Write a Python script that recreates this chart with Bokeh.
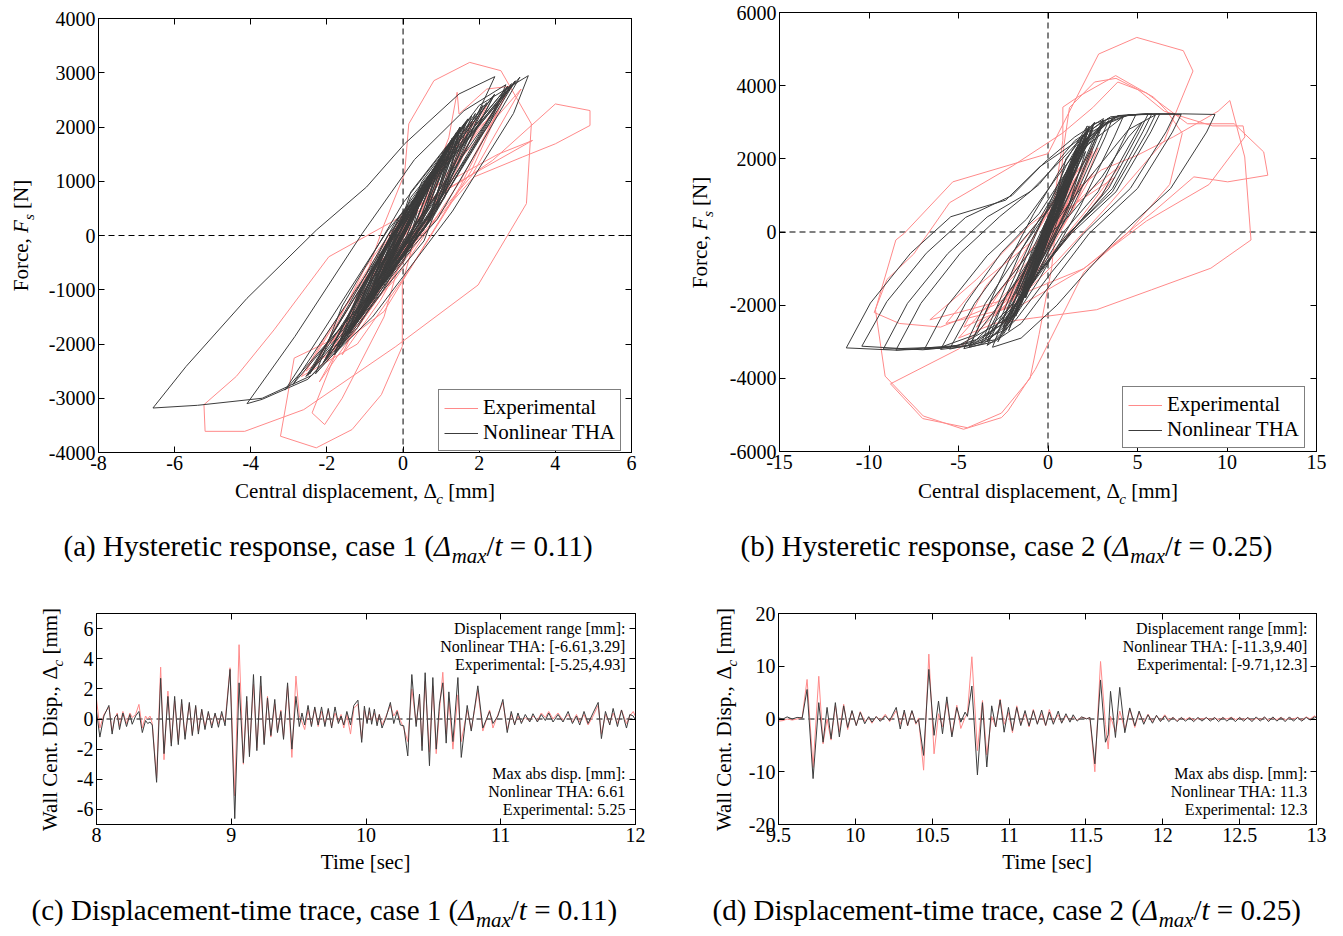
from bokeh.plotting import figure
from bokeh.models import Range1d, LinearAxis, FixedTicker, Span, Label, Legend, LegendItem, ColumnDataSource
from bokeh.layouts import column, row
from bokeh.embed import file_html
from bokeh.resources import INLINE

FONT = "Liberation Serif"
PINK = "#ff8a8a"
DARK = "#3c3c3c"

# ---------------- data ----------------
a_xticks = [-8, -6, -4, -2, 0, 2, 4, 6]
a_xlabels = ["-8", "-6", "-4", "-2", "0", "2", "4", "6"]
a_yticks = [-4000, -3000, -2000, -1000, 0, 1000, 2000, 3000, 4000]
a_ylabels = ["-4000", "-3000", "-2000", "-1000", "0", "1000", "2000", "3000", "4000"]
b_xticks = [-15, -10, -5, 0, 5, 10, 15]
b_xlabels = ["-15", "-10", "-5", "0", "5", "10", "15"]
b_yticks = [-6000, -4000, -2000, 0, 2000, 4000, 6000]
b_ylabels = ["-6000", "-4000", "-2000", "0", "2000", "4000", "6000"]
c_xticks = [8, 9, 10, 11, 12]
c_xlabels = ["8", "9", "10", "11", "12"]
c_yticks = [-6, -4, -2, 0, 2, 4, 6]
c_ylabels = ["-6", "-4", "-2", "0", "2", "4", "6"]
d_xticks = [9.5, 10, 10.5, 11, 11.5, 12, 12.5, 13]
d_xlabels = ["9.5", "10", "10.5", "11", "11.5", "12", "12.5", "13"]
d_yticks = [-20, -10, 0, 10, 20]
d_ylabels = ["-20", "-10", "0", "10", "20"]

# case 1 hysteresis, Nonlinear THA (displacement mm, force N)
a_tha_xy = [
(0.0,0),(0.4,550),(0.1,100),(-1.2,-1450),(-0.8,-800),(0.1,300),(0.9,1200),(0.6,500),(-0.3,-500),(-1.0,-1300),(-0.6,-600),(0.3,600),(0.4,650),(-0.2,-100),(-0.7,-900),(-0.3,-300),(0.4,600),(0.1,150),(-0.5,-700),(-0.2,-200),(0.3,500),(-0.35,-500),(0.2,350),(0.5,700),(0.1,0),(-0.9,-1150),(-0.5,-500),(-0.1,-50),(-0.4,-500),
(-1.5,-1900),(-2.5,-2650),(-3.7,-3020),(-4.1,-3100),
(-2.84,-1860),(-1.07,40),(0.3,1400),(1.6,2300),(2.7,2780),
(2.3,2100),(0.5,200),(-1.2,-1700),(-2.3,-2550),
(-1.6,-1300),(0.0,600),(1.5,1950),
(1.0,900),(-0.6,-1100),(-1.8,-2200),
(-1.2,-1100),(0.4,800),(1.5,1950),
(0.9,800),(-0.8,-1200),(-1.7,-2100),
(-1.1,-1000),(0.3,700),(1.3,1750),
(0.7,600),(-0.7,-1000),(-1.35,-1700),
(-0.8,-700),(0.2,500),(1.1,1500),
(0.5,400),(-1.1,-1450),(-0.3,-200),(0.9,1250),(0.3,200),(-1.0,-1300),(-0.4,-300),(0.65,950),(0.1,0),(-0.7,-900),
(0.0,200),(0.5,750),(-0.6,-750),(0.4,650),(-0.55,-700),(0.5,750),(-0.45,-600),
(0.5,1000),(2.0,2400),(3.29,2946),
(2.9,2250),(1.3,450),(-0.8,-1500),(-2.4,-2580),(-3.7,-3000),(-5.4,-3130),(-6.57,-3180),
(-5.7,-2414),(-4.10,-1158),(-2.28,98),(-0.96,894),(0.04,1690),(1.47,2609),(2.41,2928),
(0.54,100),(-2.9,-2750),(-0.57,-300),(1.5,2000),(0.18,-300),(-2.5,-2580),(-0.21,100),(2.95,2850),
(0.68,250),(-2.1,-2350),(-0.12,200),(2.85,2800),(0.81,400),(-1.7,-2050),(-0.39,-100),(1.4,1900),
(0.63,200),(-1.1,-1450),(-0.16,150),(1.3,1800),(0.72,300),(-0.9,-1200),(-0.48,-200),(0.5,800),
(0.04,-450),(-1.35,-1700),(0.11,450),(2.4,2600),(0.61,175),(-2.0,-2250),(-0.41,-125),(1.5,2000),
(1.09,700),(-0.4,-600),
(0.9,1200),(-0.5,-700),(0.8,1100),(-0.4,-550),(0.8,1100),(-0.5,-700),(0.7,1000),(-0.6,-800),(0.8,1100),(-0.3,-400),(0.2,300),(-0.4,-550),(0.5,750),(-0.4,-550),(0.9,1250),(1.25,1700),
(0.6,500),(-1.55,-1900),(-0.9,-900),(0.85,1200),(-0.3,-400),(0.75,1050),(-0.35,-450),(0.65,950),(-0.45,-600),(0.3,450),(-0.6,-800),(0.1,150),(1.1,1500),(-0.3,-400),(0.5,750),(-0.45,-650),
(-0.3,-250),(-2.45,-2550),(-0.2,250),(2.95,2850),(1.2,1100),(-0.5,-700),(0.2,800),(1.65,2100),
(0.9,500),(-2.1,-2350),(-0.1,300),(3.07,2920),(0.9,300),(-3.1,-2850),(-0.4,100),(2.75,2750),
(0.8,350),(-2.0,-2250),(-0.4,0),(2.4,2600),(0.85,550),(-1.6,-1950),(-0.1,350),(1.8,2200),
(0.55,-100),(-1.5,-1850),(0.0,400),(2.75,2750),(0.55,150),(-2.55,-2600),(-0.7,-500),(0.9,1250),
(0.2,0),(-0.8,-1100),(0.2,700),(2.2,2450),(0.9,700),(-0.6,-800),
(0.5,750),(-0.3,-400),(1.3,1800),(-0.9,-1200),(0.5,750),(-0.4,-550),(0.4,600),(-0.3,-400),(0.3,450),(-0.2,-300),(1.1,1500),(-1.3,-1650),(0.5,700),(-0.4,-550),(0.7,1000),(-0.5,-700),(0.6,850),(-0.6,-800),
(1.4,1850),(0.6,400),(-1.0,-1350),(-0.3,-100),(1.6,2050),(0.8,550),(-1.2,-1600),(-0.4,-150),(1.9,2250),(1.0,700),(-1.4,-1800),(-0.5,-300),(1.2,1650),(0.5,300),(-1.8,-2150),(-0.6,-350),(2.1,2400),(1.1,800),(-1.0,-1350),(-0.2,0),(1.0,1400),(0.4,200),(-1.6,-2000),(-0.5,-250),(1.7,2150),(0.8,450),(-0.8,-1100),(0.0,200),(0.8,1100),(0.2,0),(-1.2,-1550),(-0.4,-100),(1.5,1950),(0.7,400),(-0.6,-800),
(0.3,400),(0.0,0)
]

# case 1 hysteresis, Experimental
a_exp_xy = [
(0.0,0),(0.9,1300),(-0.6,-900),(0.8,1100),(-0.5,-700),(0.97,1350),(-0.6,-800),(0.3,400),(-0.3,-300),
(-1.5,-1800),(-2.86,-2260),(-3.22,-3700),(-2.28,-3914),(-1.34,-3577),(-0.57,-2934),(-0.02,-2046),(-0.02,-882),
(0.6,700),(1.2,1800),(1.42,2640),(1.47,2240),(2.2,2700),(2.8,2750),
(1.8,1200),(0.2,-600),(-1.2,-2000),(-2.67,-2600),
(-1.9,-1700),(0.0,200),(1.85,2100),(1.0,800),(-0.6,-1200),(-1.6,-2200),
(-0.8,-1000),(0.5,700),(1.2,1500),(0.5,300),(-0.5,-1000),(-1.5,-2000),
(-0.8,-900),(0.3,500),(1.0,1300),(0.2,0),(-1.1,-1500),(-0.3,-300),(0.8,1100),(-0.8,-1200),(0.6,900),(-0.5,-700),(0.4,600),(-0.3,-300),
(1.2,1000),(2.5,1500),(3.40,1752),
(1.5,1000),(-0.3,250),(-1.95,-392),(-3.39,-1740),(-4.38,-2597),(-5.23,-3118),(-5.2,-3610),(-4.16,-3610),(-2.61,-3210),(-0.19,-2046),(1.97,-913),(3.24,588),(3.37,2058),(2.57,3038),(1.75,3191),(0.81,2854),(0.15,2058),(0.04,1140),
(-0.5,200),(-1.0,-800),(-2.39,-3270),(-2.06,-3485),(-1.6,-3000),(-0.5,-1500),
(0.3,500),(1.58,1017),(2.35,1384),(4.0,2425),(4.91,2303),(4.91,2028),(4.0,1690),(3.13,1445),(1.86,1078),
(0.5,0),(-1.5,-2000),(-2.2,-2700),(-1.0,-1200),(1.0,900),(2.0,2000),(2.5,2300),
(1.5,1000),(-0.2,-800),(-2.3,-2400),(-1.0,-600),(1.8,2100),(0.8,500),(-2.0,-2300),(-0.6,-500),(2.7,2600),(1.5,900),(-0.5,-1400),(-2.55,-2500),(-1.0,-700),(1.3,1700),(0.5,300),(-1.2,-1700),(0.0,200),(3.1,2700),(1.8,1100),(-2.2,-2200),(-0.5,-300),(2.2,2400),(1.0,600),(-1.9,-2000),(-0.3,-200),(1.2,1500),(0.3,0),(-0.8,-1000),(0.6,800),(-0.3,-400),(0.4,500),(0.0,0)
]

# case 2 hysteresis, Nonlinear THA
b_tha_xy = [
(0.0,0),(0.5,900),(-0.3,-600),(0.4,700),(-0.2,-300),
(1.0,2000),(2.5,2950),(4.0,3180),(5.6,3230),
(5.1,2740),(3.4,1200),(1.2,-40),(-0.8,-1300),(-2.5,-2500),(-4.0,-3000),(-6.0,-3180),(-8.5,-3230),(-11.27,-3168),
(-9.92,-1942),(-7.68,-581),(-5.43,418),(-2.36,871),(-0.47,1779),(1.42,2414),(3.1,3050),
(2.7,2600),(1.2,800),(-0.5,-1100),(-2.0,-2300),(-3.2,-2900),(-4.4,-3130),
(-3.5,-2200),(-2.2,-800),(-0.8,500),(0.8,1800),(2.2,2900),
(1.8,2400),(0.3,500),(-1.5,-1600),(-3.2,-2800),(-3.75,-3050),
(-2.9,-2100),(-1.5,-500),(0.3,1000),(1.8,2300),(3.1,3000),
(2.7,2500),(1.0,500),(-1.2,-1500),(-2.8,-2700),(-3.4,-3000),
(-2.4,-1800),(-1.0,-300),(0.6,1200),(2.5,2800),
(2.1,2300),(0.5,500),(-0.8,-1000),(-1.6,-1900),
(-0.8,-700),(0.4,800),(1.6,2000),(1.2,1400),(0.0,-200),(-1.25,-1700),
(-0.5,-400),(0.5,800),(1.25,1800),(0.7,800),(-0.2,-500),(-0.9,-1300),
(-0.3,-300),(0.45,700),(-0.6,-900),(0.45,700),(-0.45,-700),(0.6,900),(-0.3,-500),
(0.5,900),(2.2,2700),(1.8,2200),(0.2,100),(-1.3,-1600),(-1.9,-2300),
(-1.0,-1000),(0.3,800),(1.7,2400),(1.2,1600),(-0.2,-400),(-1.25,-1700),
(-0.4,-300),(0.8,1400),(1.6,2300),(1.0,1200),(-0.3,-600),(-0.8,-1200),
(-0.2,-100),(-2.0,-2000),(-4.0,-2941),(-5.2,-3122),(-6.9,-3200),
(-5.6,-2000),(-3.4,-650),(-1.2,350),(0.8,1700),(2.5,2750),(4.0,3186),(6.14,3231),(7.5,3230),(9.33,3213),
(8.86,2732),(6.85,1189),(4.13,-36),(2.3,-1000),(0.5,-2000),(-1.5,-2900),(-3.1,-3150),
(-2.2,-2000),(-0.8,-500),(0.8,1200),(2.3,2500),(3.4,3050),
(2.9,2500),(1.0,400),(-1.0,-1500),(-2.8,-3000),
(-1.8,-1800),(0.0,300),(2.0,2300),(4.2,3150),
(3.7,2600),(1.8,700),(-0.5,-1300),(-2.5,-2800),(-3.4,-3100),
(-2.5,-2200),(-0.8,-200),(1.0,1800),(2.2,2800),
(1.7,2200),(0.0,300),(-1.2,-1000),(-1.8,-1700),
(-0.8,-400),(0.6,1000),(1.3,1600),(0.8,900),(-0.3,-400),(-0.6,-800),
(-2.5,-2700),(-4.5,-3120),(-6.0,-3210),
(-4.6,-1950),(-2.6,-560),(-0.5,500),(1.5,2000),(3.0,2950),(4.5,3200),(7.09,3231),
(6.6,2740),(4.6,1190),(2.0,-40),(0.2,-1100),(-1.8,-2400),(-3.0,-2950),(-5.5,-3200),
(-4.1,-1950),(-2.0,-560),(0.0,600),(1.8,2100),(3.3,3095),(5.0,3220),(5.8,3230),
(5.3,2740),(3.6,1190),(1.2,-40),(-0.5,-1100),(-2.2,-2500),(-3.6,-3050),(-4.7,-3190),
(-3.5,-1950),(-1.6,-560),(0.3,800),(2.0,2500),(3.9,3180),(4.9,3200),
(4.4,2700),(2.8,1100),(0.8,-40),(-1.0,-1500),(-2.5,-2700),
(3.0,2900),(4.5,3200),(6.25,3230),
(5.75,2740),(3.8,1100),(1.3,-40),(-0.5,-1100),(-2.5,-2500),(-4.5,-3100),(-7.0,-3220),(-10.4,-3122),
(-9.0,-1900),(-6.8,-580),(-4.6,400),(-2.0,1000),(-0.2,1900),(1.5,2600),(3.1,3100),
(2.6,2600),(0.8,600),(-1.5,-1200),(-4.0,-2800),(-6.0,-3150),(-9.2,-3200),
(-7.85,-1950),(-5.6,-590),(-3.4,410),(-1.0,1100),(0.8,2000),(2.5,2900),
(2.1,2400),(0.3,300),(-1.2,-1500),(-1.5,-1800),
(-0.2,200),(1.8,2300),(3.6,3100),
(3.2,2600),(1.3,600),(-1.0,-1300),(-2.5,-2600),
(-1.5,-1500),(0.0,400),(2.2,2700),(1.8,2200),(0.2,200),(-1.5,-2000),(-2.2,-2500),
(-1.2,-1200),(0.3,700),(2.2,2600),(1.8,2100),(0.3,0),(-1.0,-1500),(-1.25,-1800),
(-0.4,-400),(0.6,1000),(1.6,2100),(1.0,1200),(-0.5,-700),(-1.3,-1800),
(-0.5,-500),(0.5,900),(1.6,2200),(1.1,1400),(-0.3,-500),(-1.0,-1400),
(-0.2,-200),(0.7,1100),(-0.6,-900),(0.6,1000),(-0.4,-600),(0.5,800),(-0.2,-300),
(-2.0,-2300),(-5.0,-3100),(-8.5,-3230),
(-7.1,-1950),(-4.9,-580),(-2.7,420),(-0.5,1300),(1.5,2500),(3.5,3150),(5.5,3230),(7.44,3213),
(6.95,2730),(5.0,1190),(2.3,-40),(0.5,-1200),(-1.5,-2500),(-3.0,-3000),(-4.4,-3150),
(-3.2,-1900),(-1.0,-550),(1.2,450),(3.0,1500),(4.5,2600),(5.25,3000),
(4.8,2600),(3.0,1000),(0.8,-300),(-1.0,-1500),(-3.5,-2900),
(-2.4,-1800),(-0.3,-200),(2.0,1300),(4.5,2800),(6.0,3200),
(5.5,2700),(3.6,1100),(1.0,-100),(-0.8,-1300),(-2.6,-2500),
(-1.5,-1300),(0.5,800),(2.1,2200),(1.2,800),(-0.5,-900),(-1.3,-1800),
(-0.3,-400),(1.5,1700),(0.6,500),(-0.8,-1200),(-1.0,-1500),
(1.5,2200),(0.6,600),(-1.2,-1500),(-0.3,-200),(1.9,2600),(1.0,1000),(-1.5,-1900),(-0.4,-300),(2.3,2900),(1.4,1500),(-1.8,-2300),(-0.6,-500),(1.2,1800),(0.4,400),(-2.2,-2700),(-0.8,-700),(2.6,3000),(1.6,1700),(-1.0,-1200),(0.0,200),(1.0,1500),(0.3,200),(-1.4,-1800),(-0.4,-200),(1.8,2400),(0.9,900),(-0.8,-1000),(0.0,100),
(0.2,300),(1.0,1400),(0.3,200),(-0.5,-800),(0.5,700),(-0.4,-600),(0.3,400),(-0.3,-400),(0.2,200)
]

# case 2 hysteresis, Experimental
b_exp_xy = [
(0.0,0),(0.6,1200),(-0.4,-800),(0.5,900),(-0.3,-500),(0.3,700),
(0.83,2505),(0.83,3413),(1.65,3685),(3.78,4275),(5.9,3685),(6.61,3322),(7.5,2700),
(6.8,1300),(4.5,0),(2.0,-1100),(-0.71,-3758),(-2.24,-4892),(-2.6,-5074),(-4.72,-5392),(-6.97,-5029),(-9.1,-3940),(-9.64,-2124),(-8.5,-218),(-8.03,-36),(-5.32,1371),(0.0,2142),(2.83,4865),(4.96,5319),(7.56,4956),(8.1,4400),
(6.5,2500),(3.5,800),(0.5,-800),(-2.0,-2000),(-4.7,-2600),
(-3.5,-1500),(-1.0,0),(1.0,1300),(2.5,2200),(1.5,1000),(-1.0,-1000),(-3.0,-2200),(-4.0,-2600),
(-2.5,-1500),(0.0,500),(2.0,1900),(2.5,2300),(1.2,800),(-1.0,-1200),(-2.5,-2100),
(-1.0,-800),(0.5,800),(2.8,2300),(1.5,700),(-0.5,-1000),(-2.0,-1900),
(-0.5,-300),(1.5,1200),(0.5,300),(-1.2,-1500),(0.0,100),(1.6,1500),(0.6,200),(-1.0,-1000),
(0.5,600),(1.7,1600),(0.5,0),(-0.8,-900),
(-3.0,-2000),(-6.0,-2600),(-8.3,-2500),(-9.71,-2200),(-9.0,-1300),(-7.5,-600),(-5.5,800),(-2.0,1800),(0.8,2700),(2.5,3400),(3.9,4100),(5.5,3800),(7.8,2959),(10.4,2959),(12.05,2188),(12.28,1552),(10.04,1371),(8.15,1507),
(6.0,600),(2.0,-1000),(-2.0,-1800),(-5.0,-2200),(-6.6,-2400),
(-4.0,-1300),(-1.0,200),(3.0,1700),(5.0,2100),(7.0,2600),(9.5,3300),(10.16,3594),(10.99,2051),(11.34,-218),(9.10,-989),(5.79,-1579),(2.72,-2124),(-0.83,-2351),(-3.0,-2500),(-5.0,-2900),
(-3.0,-1800),(-0.5,-200),(2.0,1000),(4.0,1800),(2.0,500),(-1.0,-1300),(-3.0,-2300),
(-1.0,-800),(1.0,600),(3.75,1500),(2.0,400),(-0.5,-1100),(-2.6,-2000),
(-1.0,-900),(1.0,700),(2.5,1600),(1.0,300),(-1.0,-1200),(-2.2,-1800),
(-0.5,-300),(1.2,1000),(1.8,1400),(0.5,0),(-1.5,-1600),
(-5.0,-3200),(-8.8,-4150),(-7.0,-5100),(-4.5,-5350),(-2.6,-4950),(-1.0,-4000),(-0.5,-2800),(0.2,-1000),(0.9,2400),(1.2,3400),(2.6,4100),(3.8,4200),(5.0,3900),(6.5,3300),(9.2,2900),(10.9,2900),(11.0,2600),
(9.0,1300),(5.5,300),(2.0,-1000),(-1.5,-2000),(-5.7,-2500),
(-4.0,-1500),(-1.0,-300),(0.5,1000),(-0.5,-500),(-2.5,-1500),
(-1.0,-500),(1.5,1000),(1.9,1300),(0.5,0),(-1.6,-1400),
(-0.5,-300),(1.2,800),(0.3,-100),(-1.3,-1100),
(-0.3,-100),(0.9,700),(0.2,-200),(-0.6,-700),(0.6,500),(-0.5,-500),(0.4,300),(-0.3,-300),(0.2,100)
]

# case 1 displacement-time trace: (time s, Nonlinear THA mm, Experimental mm)
c_data = [
(8.000,0.5,1.3),(8.025,-1.2,-0.6),(8.055,0.2,0.3),(8.092,0.9,0.8),(8.116,-1.0,-0.8),(8.135,0.1,0.0),(8.154,0.3,0.4),(8.171,-0.7,-0.5),(8.196,0.4,0.5),(8.223,-0.5,-0.3),(8.248,0.3,0.4),(8.265,-0.35,0.1),(8.290,0.2,0.3),(8.315,0.5,0.97),(8.340,-0.9,-0.6),(8.364,-0.1,0.2),(8.380,-0.3,0.0),(8.397,-0.2,0.2),(8.414,-0.4,-0.3),
(8.446,-4.2,-3.9),(8.476,2.7,3.44),(8.501,-2.3,-2.7),(8.530,1.5,1.85),(8.555,-1.8,-1.6),(8.580,1.5,1.2),(8.607,-1.7,-1.5),(8.632,1.3,1.0),(8.657,-1.35,-1.1),(8.689,1.1,1.0),(8.711,-1.1,-1.0),(8.736,0.9,0.8),(8.756,-1.0,-0.8),(8.781,0.65,0.6),(8.805,-0.7,-0.5),(8.830,0.5,0.4),(8.855,-0.6,-0.4),(8.880,0.4,0.3),(8.905,-0.55,-0.3),(8.929,0.5,0.3),(8.954,-0.45,-0.2),
(8.991,3.29,3.4),(9.026,-6.61,-5.1),(9.058,2.4,4.93),(9.090,-2.9,-3.0),(9.115,1.5,1.2),(9.135,-2.5,-2.2),(9.165,2.95,2.3),(9.190,-2.1,-1.9),(9.219,2.85,2.2),(9.244,-1.7,-1.6),(9.269,1.4,1.5),(9.294,-1.1,-1.2),(9.323,1.3,1.0),(9.343,-0.9,-0.8),(9.368,0.5,0.6),(9.388,-1.35,-1.2),(9.418,2.4,2.2),(9.450,-2.0,-2.55),(9.480,1.5,2.85),(9.505,-0.5,0.2),(9.525,0.4,-0.2),
(9.545,-0.4,-0.7),(9.570,0.9,0.6),(9.595,-0.5,-0.4),(9.620,0.8,0.7),(9.645,-0.4,-0.5),(9.670,0.8,0.5),(9.695,-0.5,-0.3),(9.720,0.7,0.6),(9.745,-0.6,-0.5),(9.770,0.8,0.4),(9.795,-0.3,-0.2),(9.815,0.2,0.3),(9.835,-0.4,-0.6),(9.858,0.5,0.3),(9.885,-0.4,-1.0),(9.910,0.9,0.7),(9.940,1.25,1.0),(9.968,-1.55,-1.3),
(9.988,0.85,0.6),(10.008,-0.3,-0.2),(10.025,0.75,0.5),(10.042,-0.35,-0.1),(10.062,0.65,0.4),(10.082,-0.45,-0.2),(10.099,0.3,0.3),(10.119,-0.6,-0.4),(10.149,0.1,0.2),(10.181,1.1,0.9),(10.206,-0.3,0.2),(10.231,0.5,0.6),(10.255,-0.4,-0.1),(10.280,-0.45,-0.6),
(10.310,-2.45,-1.5),(10.340,2.95,2.0),(10.372,-0.5,-0.3),(10.397,1.65,1.5),(10.416,-2.1,-1.8),(10.439,3.07,2.5),(10.471,-3.1,-2.2),(10.496,2.75,2.2),(10.521,-2.0,-2.3),(10.545,1.0,0.5),(10.570,2.4,3.1),(10.595,-1.6,-1.0),(10.615,1.8,1.2),(10.645,-1.5,-2.0),(10.682,2.75,1.6),(10.707,-2.55,-1.5),(10.751,0.9,0.6),(10.781,-0.8,-0.7),(10.830,2.2,1.9),(10.867,-0.6,-0.8),(10.917,0.5,0.6),(10.942,-0.3,-0.6),(10.979,0.2,0.3),
(11.016,1.3,1.1),(11.048,-0.9,-0.7),(11.078,0.5,0.3),(11.103,-0.4,-0.3),(11.128,0.4,0.2),(11.153,-0.3,-0.2),(11.182,0.3,0.1),(11.215,-0.2,-0.1),(11.239,0.35,0.2),(11.272,-0.2,-0.1),(11.301,0.3,0.4),(11.331,-0.1,0.1),(11.356,0.4,0.5),(11.388,-0.2,0.0),(11.425,0.3,0.4),(11.462,-0.2,-0.1),(11.500,0.5,0.3),(11.532,-0.3,-0.2),(11.562,0.2,0.3),(11.586,-0.4,-0.2),(11.618,0.5,0.3),(11.648,-0.3,-0.4),(11.685,0.4,0.2),(11.723,1.1,0.9),(11.747,-1.3,-1.0),(11.777,0.5,0.3),(11.809,-0.4,-0.3),(11.834,0.7,0.4),(11.866,-0.5,-0.3),(11.896,0.6,0.6),(11.933,-0.6,-0.3),(11.958,0.3,0.2),(11.983,0.2,0.5),(12.008,-0.2,0.0)
]

# case 2 displacement-time trace: (time s, Nonlinear THA mm, Experimental mm)
d_data = [
(9.500,0.2,-0.4),(9.530,0.0,-0.3),(9.556,0.4,0.0),(9.589,0.0,-0.2),(9.621,0.3,0.0),(9.654,0.2,0.3),(9.686,5.6,7.5),(9.725,-11.3,-9.2),(9.762,3.1,8.1),(9.790,-4.4,-4.7),(9.816,2.2,0.0),(9.842,-3.75,-4.0),(9.870,3.1,2.5),(9.896,-3.4,-2.5),(9.924,2.5,2.8),(9.950,-1.6,-2.0),(9.978,1.6,1.5),(10.006,-1.25,-1.2),(10.032,1.25,1.4),(10.061,-0.9,-0.5),(10.087,0.45,0.3),(10.108,-0.6,-0.8),(10.136,0.45,0.5),(10.162,-0.45,-0.3),(10.195,0.6,0.9),(10.223,-0.3,-0.5),
(10.266,2.2,1.6),(10.292,-1.9,-1.0),(10.318,1.7,1.2),(10.340,-1.25,-1.3),(10.368,1.6,1.5),(10.394,-0.8,-1.0),(10.411,-0.1,0.2),(10.444,-6.9,-9.7),(10.478,9.4,12.3),(10.512,-3.1,-6.6),(10.541,3.4,1.0),(10.567,-2.8,-1.5),(10.595,4.2,3.2),(10.628,-3.4,-3.0),(10.660,2.2,2.6),(10.686,-0.6,-1.8),(10.714,1.3,0.3),(10.729,0.5,1.0),
(10.758,6.25,11.8),(10.794,-10.6,-6.0),(10.827,3.1,3.5),(10.855,-9.1,-6.8),(10.887,2.5,0.5),(10.913,-1.5,-1.5),(10.942,3.6,3.8),(10.968,-2.5,-1.0),(10.996,2.2,1.2),(11.022,-2.2,-2.6),(11.050,2.2,2.5),(11.076,-1.25,-1.0),(11.104,1.6,1.0),(11.130,-1.3,-1.5),(11.158,1.6,1.8),(11.184,-1.0,-0.8),(11.212,1.7,1.0),(11.238,-1.2,-1.3),(11.262,1.3,1.8),(11.288,-1.0,-0.6),(11.320,1.5,0.8),(11.342,-0.8,-0.7),(11.370,1.0,0.6),(11.396,-0.6,-0.3),(11.417,0.8,0.4),(11.443,-0.4,-0.2),(11.472,0.4,0.3),(11.504,0.0,0.1),(11.526,0.3,0.2),
(11.558,-8.5,-10.0),(11.595,7.4,10.9),(11.627,-4.4,-1.0),(11.645,-3.0,-5.7),(11.660,5.25,0.5),(11.692,-3.5,-2.5),(11.720,6.0,1.5),(11.753,-2.6,-2.0),(11.785,2.1,1.9),(11.818,-1.3,-1.6),(11.846,1.5,1.2),(11.876,-1.0,-0.6),(11.904,0.8,0.9),(11.933,-0.8,-0.5),(11.959,0.7,0.6),(11.985,-0.5,-0.3),
(12.013,0.6,0.8),(12.039,-0.5,-0.2),(12.067,0.3,0.3),(12.093,-0.5,-0.3),(12.121,0.3,0.2),(12.147,-0.4,-0.1),(12.175,0.2,0.3),(12.201,-0.5,-0.2),(12.229,0.3,0.1),(12.255,-0.4,0.0),(12.283,0.3,0.2),(12.309,-0.4,-0.1),(12.337,0.3,0.2),(12.363,-0.5,-0.1),(12.391,0.3,0.2),(12.417,-0.4,0.0),(12.446,0.3,0.3),(12.472,-0.5,-0.1),(12.500,0.3,0.2),(12.526,-0.4,-0.1),(12.554,0.3,0.2),(12.580,-0.5,-0.2),(12.608,0.4,0.1),(12.634,-0.4,-0.1),(12.662,0.4,0.3),(12.688,-0.5,-0.2),(12.716,0.4,0.2),(12.742,-0.4,-0.1),(12.770,0.3,0.3),(12.796,-0.5,-0.2),(12.824,0.4,0.2),(12.850,-0.4,0.0),(12.878,0.3,0.3),(12.904,-0.4,-0.2),(12.933,0.3,0.4),(12.959,-0.2,0.0),(12.987,0.4,0.6),(13.008,0.1,0.2)
]

c_notes_top = ["Displacement range [mm]:", "Nonlinear THA: [-6.61,3.29]", "Experimental: [-5.25,4.93]"]
c_notes_bot = ["Max abs disp. [mm]:", "Nonlinear THA: 6.61", "Experimental: 5.25"]
d_notes_top = ["Displacement range [mm]:", "Nonlinear THA: [-11.3,9.40]", "Experimental: [-9.71,12.3]"]
d_notes_bot = ["Max abs disp. [mm]:", "Nonlinear THA: 11.3", "Experimental: 12.3"]

# ---------------- text helpers ----------------
W_R = {' ':250,'(':333,')':333,'[':333,']':333,',':250,'.':250,':':278,'-':333,'=':564,'/':278,
       'a':444,'b':500,'c':444,'d':500,'e':444,'f':333,'g':500,'h':500,'i':278,'j':278,'k':500,'l':278,
       'm':778,'n':500,'o':500,'p':500,'q':500,'r':333,'s':389,'t':278,'u':500,'v':500,'w':722,'x':500,
       'y':500,'z':444,'A':722,'C':667,'D':722,'E':611,'F':556,'H':722,'M':889,'N':722,'T':611,'W':944,
       'Δ':612}
W_I = {'Δ':611,'F':611,'c':444,'s':389,'m':722,'a':500,'x':444,'t':278}
BASE_FIX = 0.36  # observed offset of the rendered alphabetic baseline, in em


def text_w(t, italic, size):
    tot = 0
    for ch in t:
        if ch.isdigit():
            tot += 500
        elif italic and ch in W_I:
            tot += W_I[ch]
        else:
            tot += W_R.get(ch, 500)
    return tot * size / 1000.0


def rich(p, x, y, pieces, size, rotated=False, align="left", sub_drop=0.3):
    """pieces: (text, italic, subscript); x, y = baseline start in the canvas frame, pixels"""
    sizes = [size * (0.72 if sub else 1.0) for _, _, sub in pieces]
    widths = [text_w(t, it, s) for (t, it, _), s in zip(pieces, sizes)]
    total = sum(widths)
    pos = {"left": 0.0, "center": -total / 2.0, "right": -total}[align]
    for (t, it, sub), s, w in zip(pieces, sizes, widths):
        stripped = t.lstrip(" ")
        lead = text_w(t[:len(t) - len(stripped)], it, s)
        dy = (-sub_drop * size if sub else 0.0) + BASE_FIX * s
        if rotated:
            lx, ly, ang = x - dy, y + pos + lead, 1.5707963267948966
        else:
            lx, ly, ang = x + pos + lead, y + dy, 0.0
        p.add_layout(Label(x=lx, y=ly, x_units="screen", y_units="screen", text=stripped.rstrip(" "),
                           angle=ang, text_font=FONT, text_font_size=f"{s:.1f}px",
                           text_font_style="italic" if it else "normal", text_color="black",
                           text_align="left", text_baseline="alphabetic"))
        pos += w


def text_canvas(w, h):
    p = figure(width=w, height=h, x_range=Range1d(0, w), y_range=Range1d(0, h), title=None,
               x_axis_type=None, y_axis_type=None, output_backend="svg", toolbar_location=None,
               tools="", min_border=0, frame_align=False)
    p.outline_line_color = None
    p.background_fill_color = "white"
    p.border_fill_color = "white"
    p.xgrid.visible = False
    p.ygrid.visible = False
    return p


def style_axis(ax, ticks, labels, show, standoff):
    ax.ticker = FixedTicker(ticks=ticks)
    ax.major_label_overrides = {t: (l if show else "") for t, l in zip(ticks, labels)}
    ax.major_tick_in = 6
    ax.major_tick_out = 0
    ax.minor_tick_in = 0
    ax.minor_tick_out = 0
    ax.major_tick_line_color = "black"
    ax.axis_line_color = "black"
    ax.major_label_text_font = FONT
    ax.major_label_text_color = "black"
    ax.major_label_text_font_size = "20px" if show else "1px"
    ax.major_label_standoff = standoff if show else 0
    ax.axis_label = None


def make_fig(w, h, xr, yr, xt, xl, yt, yl, left, right, top, bottom):
    p = figure(width=w, height=h, x_range=Range1d(*xr), y_range=Range1d(*yr), title=None,
               output_backend="svg", toolbar_location=None, tools="", frame_align=False,
               min_border_left=left, min_border_right=right, min_border_top=top, min_border_bottom=bottom)
    p.background_fill_color = "white"
    p.border_fill_color = "white"
    p.outline_line_color = "black"
    p.outline_line_width = 1
    p.xgrid.visible = False
    p.ygrid.visible = False
    style_axis(p.xaxis[0], xt, xl, True, 3)
    style_axis(p.yaxis[0], yt, yl, True, 3)
    ax_top = LinearAxis()
    style_axis(ax_top, xt, xl, False, 0)
    p.add_layout(ax_top, "above")
    ax_right = LinearAxis()
    style_axis(ax_right, yt, yl, False, 0)
    p.add_layout(ax_right, "right")
    for dim in ("width", "height"):
        p.add_layout(Span(location=0, dimension=dim, line_color="black", line_width=1,
                          line_dash="6 4", level="underlay"))
    return p


def add_legend(p, r_exp, r_tha, x, y):
    leg = Legend(items=[LegendItem(label="Experimental", renderers=[r_exp]),
                        LegendItem(label="Nonlinear THA", renderers=[r_tha])],
                 location=(x, y), border_line_color="black", border_line_width=1,
                 background_fill_color="white", background_fill_alpha=1.0,
                 label_text_font=FONT, label_text_font_size="21px", label_text_color="black",
                 glyph_width=34, glyph_height=20, label_height=20, padding=5, spacing=0,
                 margin=0, label_standoff=5)
    p.add_layout(leg)


XT_C = [("Central displacement, ", False, False), ("Δ", False, False), ("c", True, True), (" [mm]", False, False)]
YT_F = [("Force, ", False, False), ("F", True, False), ("s", True, True), (" [N]", False, False)]
YT_W = [("Wall Cent. Disp., ", False, False), ("Δ", False, False), ("c", True, True), (" [mm]", False, False)]


def caption(prefix, val):
    return [(prefix, False, False), ("Δ", True, False), ("max", True, True), ("/", False, False),
            ("t", True, False), (" = " + val + ")", False, False)]


# ---------------- row 1: panels (a), (b) ----------------
pa = make_fig(640, 478, (-8, 6), (-4000, 4000), a_xticks, a_xlabels, a_yticks, a_ylabels, 58, 49, 18, 26)
sa_e = ColumnDataSource(dict(x=[v[0] for v in a_exp_xy], y=[v[1] for v in a_exp_xy]))
sa_t = ColumnDataSource(dict(x=[v[0] for v in a_tha_xy], y=[v[1] for v in a_tha_xy]))
ra_e = pa.line("x", "y", source=sa_e, line_color=PINK, line_width=1)
ra_t = pa.line("x", "y", source=sa_t, line_color=DARK, line_width=1)
add_legend(pa, ra_e, ra_t, 340, 1)

pb = make_fig(621, 478, (-15, 15), (-6000, 6000), b_xticks, b_xlabels, b_yticks, b_ylabels, 59, 25, 12, 27)
sb_e = ColumnDataSource(dict(x=[v[0] for v in b_exp_xy], y=[v[1] for v in b_exp_xy]))
sb_t = ColumnDataSource(dict(x=[v[0] for v in b_tha_xy], y=[v[1] for v in b_tha_xy]))
rb_e = pb.line("x", "y", source=sb_e, line_color=PINK, line_width=1)
rb_t = pb.line("x", "y", source=sb_t, line_color=DARK, line_width=1)
add_legend(pb, rb_e, rb_t, 343, 3)

ya = text_canvas(40, 478)
rich(ya, 28, 243, YT_F, 21, rotated=True, align="center")
yb = text_canvas(40, 478)
rich(yb, 27, 246, YT_F, 21, rotated=True, align="center")

cap_ab = text_canvas(1341, 100)
rich(cap_ab, 364.5, 80, XT_C, 21, align="center")
rich(cap_ab, 1047.5, 80, XT_C, 21, align="center")
rich(cap_ab, 63, 22, caption("(a) Hysteretic response, case 1 (", "0.11"), 29, sub_drop=0.25)
rich(cap_ab, 740, 22, caption("(b) Hysteretic response, case 2 (", "0.25"), 29, sub_drop=0.25)

# ---------------- row 2: panels (c), (d) ----------------
pc = make_fig(612, 272, (8, 12), (-7, 7), c_xticks, c_xlabels, c_yticks, c_ylabels, 28, 45, 35, 26)
sc = ColumnDataSource(dict(t=[v[0] for v in c_data], tha=[v[1] for v in c_data], exp=[v[2] for v in c_data]))
pc.line("t", "exp", source=sc, line_color=PINK, line_width=1)
pc.line("t", "tha", source=sc, line_color=DARK, line_width=1)

pd_ = make_fig(597, 272, (9.5, 13), (-20, 20), d_xticks, d_xlabels, d_yticks, d_ylabels, 34, 25, 35, 26)
sd = ColumnDataSource(dict(t=[v[0] for v in d_data], tha=[v[1] for v in d_data], exp=[v[2] for v in d_data]))
pd_.line("t", "exp", source=sd, line_color=PINK, line_width=1)
pd_.line("t", "tha", source=sd, line_color=DARK, line_width=1)

for p, top, bot in ((pc, c_notes_top, c_notes_bot), (pd_, d_notes_top, d_notes_bot)):
    for txt, yy in list(zip(top, (190, 172, 154))) + list(zip(bot, (45, 27, 9))):
        p.add_layout(Label(x=529, y=yy + BASE_FIX * 16, x_units="screen", y_units="screen", text=txt,
                           text_font=FONT, text_font_size="16px", text_align="right",
                           text_baseline="alphabetic", text_color="black"))

yc = text_canvas(68, 272)
rich(yc, 57, 131, YT_W, 21, rotated=True, align="center")
yd = text_canvas(64, 272)
rich(yd, 51, 131, YT_W, 21, rotated=True, align="center")

cap_cd = text_canvas(1341, 84)
rich(cap_cd, 365.5, 65, [("Time [sec]", False, False)], 21, align="center")
rich(cap_cd, 1047, 65, [("Time [sec]", False, False)], 21, align="center")
rich(cap_cd, 31, 14, caption("(c) Displacement-time trace, case 1 (", "0.11"), 29, sub_drop=0.25)
rich(cap_cd, 712, 14, caption("(d) Displacement-time trace, case 2 (", "0.25"), 29, sub_drop=0.25)

layout = column(row(ya, pa, yb, pb), cap_ab, row(yc, pc, yd, pd_), cap_cd)
open("out.html", "w").write(file_html(layout, INLINE))
